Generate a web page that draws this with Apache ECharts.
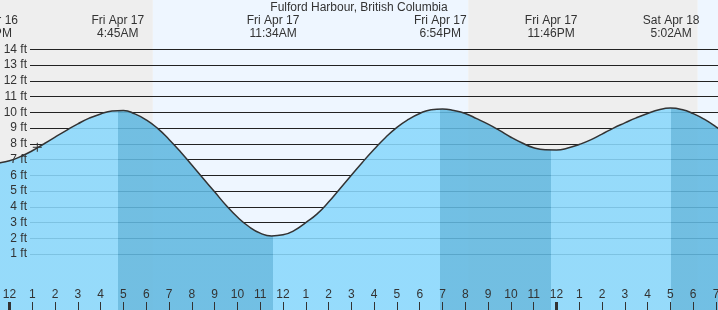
<!DOCTYPE html>
<html><head><meta charset="utf-8">
<script src="https://cdn.jsdelivr.net/npm/echarts@6/dist/echarts.min.js"></script>
<style>html,body{margin:0;padding:0;background:#fff}#c{width:718px;height:310px}</style>
</head><body><div id="c"></div>
<script>
// ---- data (hours from midnight Fri Apr 17; heights in feet) ----
const chartTitle = 'Fulford Harbour, British Columbia';
const tideHours = [-1, -0.5, 0, 0.5, 1, 1.5, 2, 2.5, 3, 3.5, 4, 4.5, 5, 5.5, 6, 6.5, 7, 7.5, 8, 8.5, 9, 9.5, 10, 10.5, 11, 11.5,
  12, 12.5, 13, 13.5, 14, 14.5, 15, 15.5, 16, 16.5, 17, 17.5, 18, 18.5, 19, 19.5, 20, 20.5, 21, 21.5, 22, 22.5, 23, 23.5,
  24, 24.5, 25, 25.5, 26, 26.5, 27, 27.5, 28, 28.5, 29, 29.5, 30, 30.5, 31, 31.5, 32];
const tideFeet = [6.66, 6.77, 6.93, 7.2, 7.56, 7.99, 8.43, 8.86, 9.27, 9.63, 9.9, 10.08, 10.12, 9.9, 9.52, 8.98, 8.28, 7.5, 6.65, 5.8, 4.95, 4.1, 3.35, 2.75, 2.33, 2.15,
  2.22, 2.5, 3.0, 3.55, 4.3, 5.15, 6.0, 6.85, 7.65, 8.4, 9.05, 9.55, 9.93, 10.17, 10.22, 10.12, 9.93, 9.6, 9.25, 8.85, 8.42, 8.05, 7.75, 7.62,
  7.61, 7.73, 7.96, 8.25, 8.62, 9.0, 9.33, 9.65, 9.93, 10.17, 10.27, 10.18, 9.92, 9.55, 9.08, 8.55, 8.0];
const extremeHours = [-0.93, 4.75, 11.567, 18.9, 23.767, 29.033];
const extremeFeet  = [6.6, 10.15, 2.15, 10.23, 7.6, 10.27];
const extremeDays  = ['Thu Apr 16', 'Fri Apr 17', 'Fri Apr 17', 'Fri Apr 17', 'Fri Apr 17', 'Sat Apr 18'];
const extremeTimes = ['11:04PM', '4:45AM', '11:34AM', '6:54PM', '11:46PM', '5:02AM'];
const sunHours = [6.29, 20.13, 30.2];          // sunrise, sunset, sunrise
const midnightHours = [0, 24];
const nowHour = 1.22, nowFeet = 7.78;
const depthMin = 1, depthMax = 14;
const hourMin = -1, hourMax = 32;

// ---- layout (pixels) ----
const W = 718, H = 310;
const X0 = 9.5, PXH = 22.79;      // x of midnight, px per hour
const Y0 = 269.8, PXF = 15.746;   // y of 0 ft, px per foot
const FONT = 'Liberation Sans';
const TXT = '#333';
const NIGHT = '#EEEEEE', DAY = '#EEF6FF';
const WATER_LIGHT = '#8AD8FC', WATER_DARK = '#61B8E0';

const gridLeft = X0 + hourMin * PXH;
const gridRight = W - (X0 + hourMax * PXH);
const yMin0 = -(H - Y0) / PXF, yMax0 = Y0 / PXF;

const pts = tideHours.map((h, i) => [h, tideFeet[i]]);

// rising = light, falling = dark
const pieces = [{ lt: extremeHours[0], color: WATER_DARK }];
for (let i = 0; i < extremeHours.length - 1; i++) {
  pieces.push({ gte: extremeHours[i], lt: extremeHours[i + 1],
    color: extremeFeet[i] > extremeFeet[i + 1] ? WATER_DARK : WATER_LIGHT });
}
pieces.push({ gte: extremeHours[extremeHours.length - 1], color: WATER_DARK });

// day / night bands
const bands = [];
let prev = hourMin, night = true;
sunHours.concat([hourMax]).forEach(h => {
  bands.push([{ xAxis: prev, itemStyle: { color: night ? NIGHT : DAY } }, { xAxis: h }]);
  prev = h; night = !night;
});

function nearestIdx(arr, v) {
  let best = 0;
  arr.forEach((a, i) => { if (Math.abs(a - v) < Math.abs(arr[best] - v)) best = i; });
  return best;
}

const chart = echarts.init(document.getElementById('c'), null, { renderer: 'canvas' });
chart.setOption({
  animation: false,
  backgroundColor: '#fff',
  textStyle: { fontFamily: FONT },
  title: {
    text: chartTitle, left: 'center', top: 2, padding: 0,
    textStyle: { fontSize: 12, fontWeight: 'normal', color: TXT, fontFamily: FONT }
  },
  grid: [
    { left: gridLeft, right: gridRight, top: 0, bottom: 0, outerBoundsMode: 'none', containLabel: false },
    { left: 30, right: 0, top: Y0 - depthMax * PXF, bottom: H - (Y0 - depthMin * PXF), outerBoundsMode: 'none', containLabel: false }
  ],
  xAxis: [
    { gridIndex: 0, type: 'value', position: 'bottom', min: hourMin, max: hourMax, interval: 1, z: 10,
      axisLine: { show: false, onZero: false }, splitLine: { show: false },
      axisTick: { show: true, inside: true, length: 8, lineStyle: { color: TXT, width: 1 } },
      axisLabel: { inside: true, margin: 9, color: TXT, fontSize: 12, fontFamily: FONT, hideOverlap: false,
        formatter: v => { const h = ((Math.round(v) % 12) + 12) % 12; return String(h === 0 ? 12 : h); } } },
    { gridIndex: 0, type: 'value', position: 'top', min: hourMin, max: hourMax, z: 10,
      axisLine: { show: false, onZero: false }, splitLine: { show: false }, axisTick: { show: false },
      axisLabel: { inside: true, margin: 14, color: TXT, fontSize: 12, lineHeight: 13, fontFamily: FONT,
        align: 'center', customValues: extremeHours,
        formatter: v => { const i = nearestIdx(extremeHours, v); return extremeDays[i] + '\n' + extremeTimes[i]; } } },
    { gridIndex: 0, type: 'value', position: 'bottom', min: hourMin, max: hourMax, z: 11,
      axisLine: { show: false, onZero: false }, splitLine: { show: false }, axisLabel: { show: false },
      axisTick: { show: true, inside: true, length: 8, customValues: midnightHours,
        lineStyle: { color: TXT, width: 3 } } },
    { gridIndex: 1, type: 'value', min: 0, max: 1, show: false }
  ],
  yAxis: [
    { gridIndex: 0, type: 'value', min: yMin0, max: yMax0, show: false },
    { gridIndex: 1, type: 'value', position: 'left', min: depthMin, max: depthMax, interval: 1, z: 1.5,
      axisLine: { show: false }, axisTick: { show: false }, axisLabel: { show: false },
      splitLine: { show: true, lineStyle: { color: '#222', width: 1 } } },
    { gridIndex: 1, type: 'value', position: 'left', min: depthMin, max: depthMax, interval: 1, z: 10,
      axisLine: { show: false }, axisTick: { show: false }, splitLine: { show: false },
      axisLabel: { margin: 3, color: TXT, fontSize: 12, fontFamily: FONT, formatter: '{value} ft' } }
  ],
  visualMap: {
    type: 'piecewise', show: false, dimension: 0, seriesIndex: 0, pieces: pieces
  },
  series: [
    { type: 'line', xAxisIndex: 0, yAxisIndex: 0, data: pts, smooth: true,
      symbol: 'none', z: 2,
      lineStyle: { color: '#333', width: 1.5 },
      areaStyle: { opacity: 0.88, origin: 'start' },
      markArea: { silent: true, z: 1, data: bands } },
    { type: 'scatter', xAxisIndex: 0, yAxisIndex: 0, data: [[nowHour, nowFeet]], z: 6,
      symbol: 'path://M0,5L10,5M5,0L5,10', symbolSize: 9,
      itemStyle: { color: 'rgba(0,0,0,0)', borderColor: '#333', borderWidth: 1, opacity: 1 } },
    { type: 'line', xAxisIndex: 3, yAxisIndex: 1, data: [] }
  ]
});
</script></body></html>
